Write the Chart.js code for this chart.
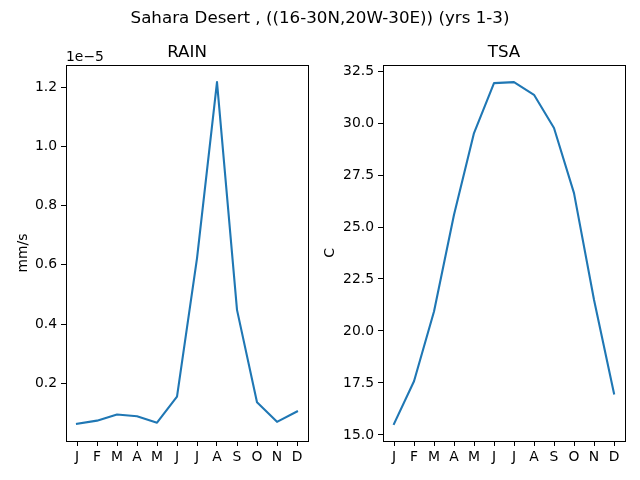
<!DOCTYPE html>
<html>
<head>
<meta charset="utf-8">
<script src="https://cdn.jsdelivr.net/npm/chart.js@4.4.0/dist/chart.umd.min.js"></script>
<style>
html,body{margin:0;padding:0;background:#fff;}
#wrap{position:relative;width:640px;height:480px;}
canvas{position:absolute;left:0;top:0;}
</style>
</head>
<body>
<div id="wrap">
<canvas id="c1" width="640" height="480"></canvas>
<canvas id="c2" width="640" height="480"></canvas>
</div>
<script>
const months = ['J','F','M','A','M','J','J','A','S','O','N','D'];
// RAIN in units of 1e-5 mm/s
const rainValues = [0.063, 0.074, 0.095, 0.089, 0.067, 0.155, 0.622, 1.217, 0.448, 0.136, 0.070, 0.105];
// TSA in C
const tsaValues = [15.53, 17.58, 20.94, 25.59, 29.52, 31.92, 31.97, 31.36, 29.76, 26.63, 21.50, 16.99];
const rainTicks = [0.2, 0.4, 0.6, 0.8, 1.0, 1.2];
const tsaTicks = [15.0, 17.5, 20.0, 22.5, 25.0, 27.5, 30.0, 32.5];
const suptitle = 'Sahara Desert , ((16-30N,20W-30E)) (yrs 1-3)';

const FONT = 'DejaVu Sans';
const TICK_PX = 13.9;
const TITLE_PX = 16.7;

function range(vals){
  const mn = Math.min(...vals), mx = Math.max(...vals);
  const m = (mx - mn) * 0.05;
  return [mn - m, mx + m];
}

function makeChart(id, values, yTicks, decimals, opts){
  const [ymin, ymax] = range(values);
  const pts = values.map((v,i)=>({x:i, y:v}));
  const textPlugin = {
    id:'texts',
    afterDraw(chart){
      const ctx = chart.ctx, a = chart.chartArea;
      ctx.save();
      ctx.strokeStyle = '#000'; ctx.lineWidth = 1;
      ctx.strokeRect(Math.round(a.left)+0.5, Math.round(a.top)+0.5, Math.round(a.right-a.left), Math.round(a.bottom-a.top));
      ctx.fillStyle = '#000';
      ctx.textBaseline = 'alphabetic';
      ctx.font = TITLE_PX + 'px "' + FONT + '"';
      ctx.textAlign = 'center';
      ctx.fillText(opts.title, (a.left + a.right)/2, a.top - 8);
      if (opts.suptitle) ctx.fillText(opts.suptitle, 320, 23);
      ctx.font = TICK_PX + 'px "' + FONT + '"';
      if (opts.offset){
        ctx.textAlign = 'left';
        ctx.fillText(opts.offset, a.left, a.top - 4);
      }
      ctx.translate(opts.ylabelX, (a.top + a.bottom)/2);
      ctx.rotate(-Math.PI/2);
      ctx.textAlign = 'center';
      ctx.textBaseline = 'middle';
      ctx.fillText(opts.ylabel, 0, 0);
      ctx.restore();
    }
  };
  return new Chart(document.getElementById(id), {
    type:'line',
    data:{datasets:[{data:pts, borderColor:'#1f77b4', borderWidth:2.1, borderJoinStyle:'round', borderCapStyle:'square', pointRadius:0, tension:0, fill:false}]},
    options:{
      responsive:false, animation:false, devicePixelRatio:1,
      layout:{padding:{left:opts.padLeft, right:opts.padRight, top:65, bottom:9}},
      plugins:{legend:{display:false}, tooltip:{enabled:false}, title:{display:false}},
      scales:{
        x:{type:'linear', min:-0.55, max:11.55,
          afterBuildTicks(s){ s.ticks = months.map((m,i)=>({value:i})); },
          afterFit(s){ s.height = 30; },
          grid:{drawOnChartArea:false, drawTicks:true, tickLength:5, color:'#000'},
          border:{display:true, color:'#000'},
          ticks:{color:'#000', padding:3, maxRotation:0, autoSkip:false, font:{family:FONT, size:TICK_PX},
            callback:(v)=>months[v]}
        },
        y:{type:'linear', min:ymin, max:ymax,
          afterBuildTicks(s){ s.ticks = yTicks.map(v=>({value:v})); },
          afterFit(s){ s.width = opts.yWidth; },
          grid:{drawOnChartArea:false, drawTicks:true, tickLength:5, color:'#000'},
          border:{display:true, color:'#000'},
          ticks:{color:'#000', padding:4, autoSkip:false, font:{family:FONT, size:TICK_PX},
            callback:(v)=>v.toFixed(decimals)}
        }
      }
    },
    plugins:[textPlugin]
  });
}

makeChart('c1', rainValues, rainTicks, 1, {title:'RAIN', ylabel:'mm/s', offset:'1e\u22125', suptitle:suptitle,
  padLeft:16, yWidth:50, padRight:332, ylabelX:23});
makeChart('c2', tsaValues, tsaTicks, 1, {title:'TSA', ylabel:'C',
  padLeft:322, yWidth:61, padRight:15, ylabelX:330});
</script>
</body>
</html>
